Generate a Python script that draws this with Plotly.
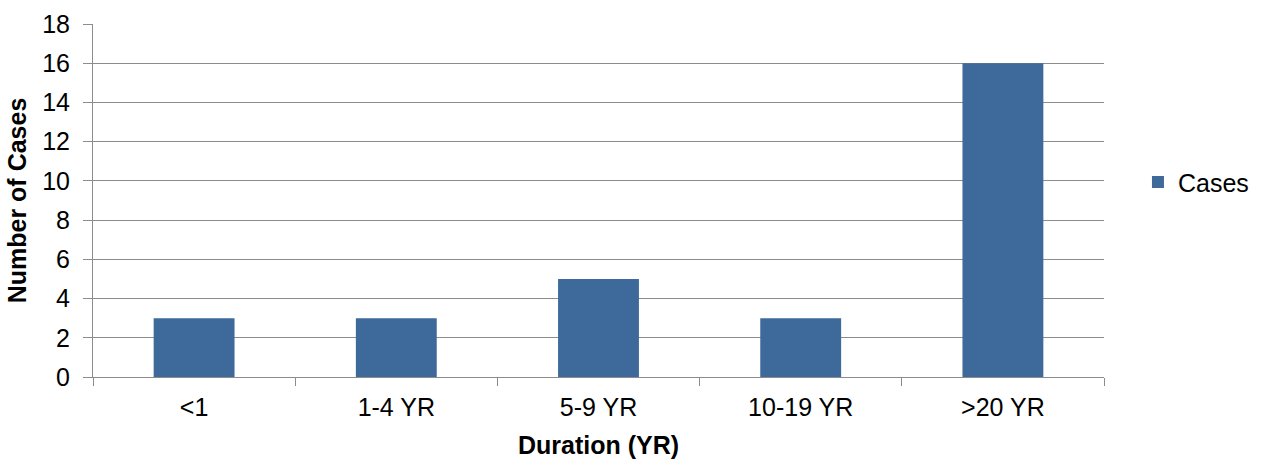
import plotly.graph_objects as go

categories = ["<1", "1-4 YR", "5-9 YR", "10-19 YR", ">20 YR"]
cases = [3, 3, 5, 3, 16]
y_ticks = [0, 2, 4, 6, 8, 10, 12, 14, 16, 18]

bar_color = "#3D6A9B"
grid_color = "#8C8C8C"
font_family = "Liberation Sans, Arial, sans-serif"

fig = go.Figure()
fig.add_trace(go.Bar(
    x=categories,
    y=cases,
    name="Cases",
    marker=dict(color=bar_color, line=dict(width=0)),
))

fig.update_layout(
    width=1263,
    height=459,
    margin=dict(l=93, r=159, t=24, b=82, autoexpand=False),
    paper_bgcolor="white",
    plot_bgcolor="white",
    bargap=0.6,
    font=dict(family=font_family, size=25, color="#000000"),
    showlegend=True,
    legend=dict(
        xref="container", yref="container",
        x=0.901, y=0.603, xanchor="left", yanchor="middle",
        font=dict(size=25),
        bgcolor="rgba(0,0,0,0)",
    ),
    xaxis=dict(
        type="category",
        automargin=False,
        showgrid=False,
        showline=True,
        linecolor=grid_color,
        linewidth=1,
        ticks="outside",
        tickson="boundaries",
        ticklen=8,
        tickcolor=grid_color,
        tickfont=dict(size=25),
        ticklabelstandoff=8,
        title=dict(text="<b>Duration (YR)</b>", font=dict(size=25), standoff=19),
    ),
    yaxis=dict(
        range=[0, 18],
        automargin=False,
        tickvals=y_ticks,
        showgrid=True,
        gridcolor=grid_color,
        gridwidth=1,
        showline=True,
        linecolor=grid_color,
        linewidth=1,
        ticks="outside",
        ticklen=9,
        tickcolor=grid_color,
        tickfont=dict(size=25),
        ticklabelstandoff=8,
        zeroline=False,
        title=dict(text="<b>Number of Cases</b>", font=dict(size=25), standoff=8),
    ),
)

fig.write_html("out.html")
